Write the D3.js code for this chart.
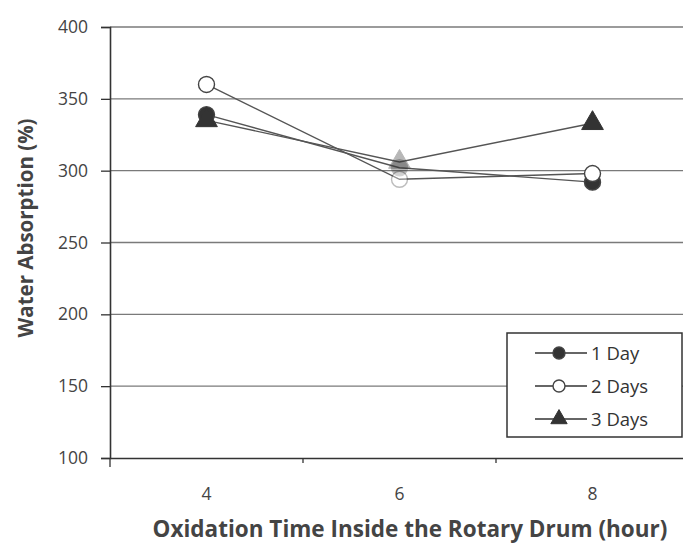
<!DOCTYPE html>
<html>
<head>
<meta charset="utf-8">
<script src="https://cdn.jsdelivr.net/npm/d3@7"></script>
<style>
  body { margin: 0; background: #fff; }
  text { font-family: "Open Sans", Lato, sans-serif; }
</style>
</head>
<body>
<div id="chart"></div>
<script>
// values
var categories = ["4", "6", "8"];
var oneDay   = [339, 302, 292];
var twoDays  = [360, 294, 298];
var threeDays = [335, 306, 333];
var yTicks = [100, 150, 200, 250, 300, 350, 400];

var series = [
  {name: "1 Day",  values: oneDay,    shape: "circle",   fill: "#333"},
  {name: "2 Days", values: twoDays,   shape: "circle",   fill: "#fff"},
  {name: "3 Days", values: threeDays, shape: "triangle", fill: "#333"}
];

var W = 683, H = 543;
var margin = {top: 27, right: -6, bottom: 85, left: 110},
    width  = W - margin.left - margin.right,
    height = H - margin.top - margin.bottom;

var svg = d3.select("#chart").append("svg")
    .attr("width", W)
    .attr("height", H);

var g = svg.append("g")
    .attr("transform", "translate(" + margin.left + "," + margin.top + ")");

var x = d3.scaleBand()
    .domain(categories)
    .range([0, width]);

var y = d3.scaleLinear()
    .domain([100, 400])
    .range([height, 0]);

// gridlines
g.selectAll("line.grid")
    .data(yTicks.slice(1))
  .enter().append("line")
    .attr("class", "grid")
    .attr("x1", 0)
    .attr("x2", width)
    .attr("y1", function(d) { return y(d); })
    .attr("y2", function(d) { return y(d); })
    .attr("stroke", "#7a7a7a")
    .attr("stroke-width", 1.4);

// y axis
var yAxis = g.append("g")
    .call(d3.axisLeft(y).tickValues(yTicks).tickSize(9).tickPadding(13));
yAxis.select(".domain").attr("stroke", "#333").attr("stroke-width", 1.6);
yAxis.selectAll(".tick line").attr("stroke", "#333").attr("stroke-width", 1.3);
yAxis.selectAll(".tick text")
    .attr("font-size", 17.5)
    .attr("fill", "#444")
    .style("font-family", "'Open Sans', Lato, sans-serif");

// x axis: ticks between categories like the spreadsheet axis
var xAxis = g.append("g")
    .attr("transform", "translate(0," + height + ")")
    .call(d3.axisBottom(x).tickSize(0).tickPadding(30));
xAxis.select(".domain").attr("stroke", "#333").attr("stroke-width", 1.6);
xAxis.selectAll(".tick text")
    .attr("font-size", 17.5)
    .attr("fill", "#444")
    .style("font-family", "'Open Sans', Lato, sans-serif");
xAxis.selectAll("line.sep")
    .data(categories)
  .enter().append("line")
    .attr("class", "sep")
    .attr("x1", function(d) { return x(d); })
    .attr("x2", function(d) { return x(d); })
    .attr("y1", 0)
    .attr("y2", function(d, i) { return i === 0 ? 9 : 5; })
    .attr("stroke", "#333")
    .attr("stroke-width", 1.3);

// lines
var line = d3.line()
    .x(function(d, i) { return x(categories[i]) + x.bandwidth() / 2; })
    .y(function(d) { return y(d); });

g.selectAll("path.series")
    .data(series)
  .enter().append("path")
    .attr("class", "series")
    .attr("d", function(d) { return line(d.values); })
    .attr("fill", "none")
    .attr("stroke", "#555")
    .attr("stroke-width", 1.4);

function drawMarker(sel, s, r) {
  if (s.shape === "circle") {
    sel.append("circle")
      .attr("r", r)
      .attr("fill", s.fill)
      .attr("stroke", "#444")
      .attr("stroke-width", 1.4);
  } else {
    sel.append("path")
      .attr("d", d3.symbol().type(d3.symbolTriangle).size(r * r * 3.2)())
      .attr("fill", s.fill)
      .attr("stroke", "#333")
      .attr("stroke-width", 1);
  }
}

series.forEach(function(s) {
  s.values.forEach(function(v, i) {
    var m = g.append("g")
      .attr("transform", "translate(" + (x(categories[i]) + x.bandwidth() / 2) + "," + y(v) + ")")
      .attr("opacity", i === 1 ? 0.35 : 1);
    drawMarker(m, s, 8);
  });
});

// legend
var lg = svg.append("g").attr("transform", "translate(507,333)");
lg.append("rect")
    .attr("width", 175)
    .attr("height", 104)
    .attr("fill", "#fff")
    .attr("stroke", "#333")
    .attr("stroke-width", 1.5);
series.forEach(function(s, i) {
  var row = lg.append("g").attr("transform", "translate(0," + (20 + i * 33) + ")");
  row.append("line")
    .attr("x1", 28).attr("x2", 80)
    .attr("stroke", "#333").attr("stroke-width", 1.6);
  var m = row.append("g").attr("transform", "translate(52,0)");
  drawMarker(m, s, 6);
  row.append("text")
    .attr("x", 84)
    .attr("y", 7)
    .attr("font-size", 18.5)
    .attr("fill", "#333")
    .text(s.name);
});

// axis titles
svg.append("text")
    .attr("x", 410)
    .attr("y", 537)
    .attr("text-anchor", "middle")
    .attr("font-size", 22.5)
    .attr("font-weight", "bold")
    .attr("fill", "#444")
    .text("Oxidation Time Inside the Rotary Drum (hour)");

svg.append("text")
    .attr("transform", "translate(33,228) rotate(-90)")
    .attr("text-anchor", "middle")
    .attr("font-size", 20.5)
    .attr("font-weight", "bold")
    .attr("fill", "#444")
    .text("Water Absorption (%)");
</script>
</body>
</html>
